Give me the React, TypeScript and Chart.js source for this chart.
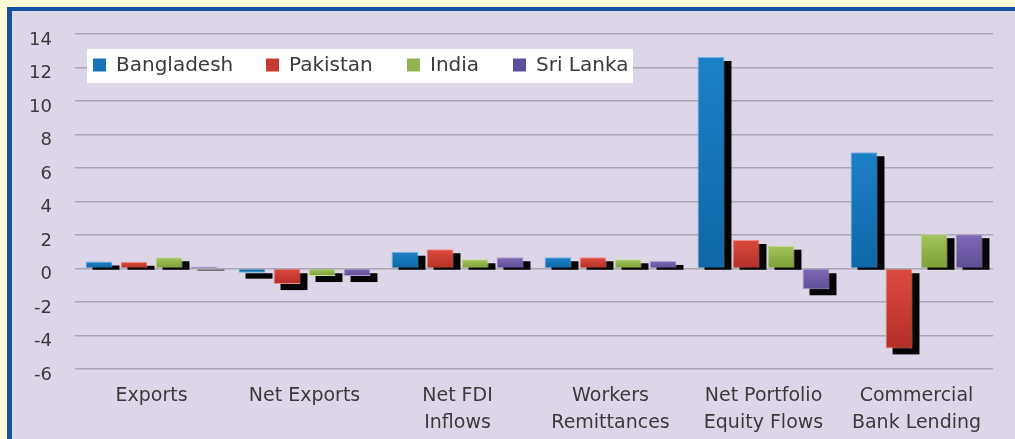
import React, { useEffect, useRef } from "react";
import { Chart, registerables } from "chart.js";

Chart.register(...registerables);

const categories: (string | string[])[] = [
  "Exports",
  "Net Exports",
  ["Net FDI", "Inflows"],
  ["Workers", "Remittances"],
  ["Net Portfolio", "Equity Flows"],
  ["Commercial", "Bank Lending"],
];

const seriesNames = ["Bangladesh", "Pakistan", "India", "Sri Lanka"];

const bangladesh = [0.42, -0.25, 1.0, 0.67, 12.63, 6.94];
const pakistan = [0.4, -0.93, 1.15, 0.67, 1.7, -4.77];
const india = [0.67, -0.45, 0.55, 0.55, 1.36, 2.05];
const sriLanka = [0.12, -0.45, 0.67, 0.45, -1.24, 2.05];

const yTicks = [-6, -4, -2, 0, 2, 4, 6, 8, 10, 12, 14];

const topColors = ["#1d80c6", "#dc4a3e", "#a2c45a", "#7f6ab5"];
const bottomColors = ["#0f67a6", "#b32f27", "#7e9f38", "#5e4d93"];
const edgeColors = ["#6fb3e6", "#f08c84", "#c9df97", "#ada0d6"];
const legendColors = ["#1a72b8", "#c63a31", "#8fb350", "#5d4d9d"];
const legendItemX = [81, 254, 395, 501];

const FONT = '"DejaVu Sans", sans-serif';
const TEXT = "#3a3a3a";

const shadowPlugin = {
  id: "barShadow",
  beforeDatasetsDraw(chart: any) {
    const ctx = chart.ctx;
    ctx.save();
    ctx.fillStyle = "#050505";
    chart.data.datasets.forEach((_: any, di: number) => {
      const meta = chart.getDatasetMeta(di);
      meta.data.forEach((el: any) => {
        const p = el.getProps(["x", "y", "base", "width"], true);
        const left = p.x - p.width / 2 + 7;
        const positive = p.y < p.base;
        const top = Math.min(p.y, p.base) + 4;
        const bottom = Math.max(p.y, p.base) + (positive ? 2 : 6);
        ctx.fillRect(left, top, p.width, bottom - top);
      });
    });
    ctx.restore();
  },
};

const legendPlugin = {
  id: "boxLegend",
  afterDraw(chart: any) {
    const ctx = chart.ctx;
    ctx.save();
    ctx.fillStyle = "#ffffff";
    ctx.fillRect(75, 38, 546, 34);
    ctx.font = "20px " + FONT;
    ctx.textBaseline = "middle";
    const cy = 54;
    seriesNames.forEach((name, i) => {
      const x = legendItemX[i];
      ctx.fillStyle = legendColors[i];
      ctx.fillRect(x, cy - 6.5, 13, 13);
      ctx.fillStyle = TEXT;
      ctx.fillText(name, x + 23, cy + 1);
    });
    ctx.restore();
  },
};

function makeFill(i: number) {
  return (c: any) => {
    const chart = c.chart;
    if (!chart.chartArea || c.raw === undefined) return topColors[i];
    const y = chart.scales.y;
    const p1 = y.getPixelForValue(c.raw);
    const p0 = y.getPixelForValue(0);
    const a = Math.min(p0, p1);
    const b = Math.max(p0, p1);
    if (!(b > a)) return topColors[i];
    const g = chart.ctx.createLinearGradient(0, a, 0, b);
    g.addColorStop(0, topColors[i]);
    g.addColorStop(1, bottomColors[i]);
    return g;
  };
}

export default function App() {
  const ref = useRef<HTMLCanvasElement>(null);

  useEffect(() => {
    if (!ref.current) return;
    const values = [bangladesh, pakistan, india, sriLanka];
    const chart = new Chart(ref.current, {
      type: "bar",
      data: {
        labels: categories as any,
        datasets: values.map((v, i) => ({
          label: seriesNames[i],
          data: v,
          backgroundColor: makeFill(i),
          borderColor: edgeColors[i],
          borderWidth: 1,
          barPercentage: 0.77,
          categoryPercentage: 0.915,
        })),
      },
      options: {
        responsive: false,
        animation: false,
        layout: { padding: { top: 23, right: 22, bottom: 0, left: 0 } },
        plugins: {
          legend: { display: false },
          tooltip: { enabled: false },
        },
        scales: {
          x: {
            grid: { display: false, drawTicks: false },
            border: { display: false },
            ticks: {
              color: TEXT,
              font: { family: FONT, size: 19, lineHeight: 1.4 },
              padding: 14,
              maxRotation: 0,
              autoSkip: false,
            },
            afterFit(scale: any) {
              scale.height = 70;
              scale.paddingLeft = 0;
              scale.paddingRight = 0;
            },
          },
          y: {
            min: -6,
            max: 14,
            afterBuildTicks(scale: any) {
              scale.ticks = yTicks.map((v) => ({ value: v }));
            },
            grid: { color: "#aaa6b2", lineWidth: 1.5, drawTicks: false },
            border: { display: false },
            ticks: {
              color: TEXT,
              font: { family: FONT, size: 18 },
              padding: 23,
              labelOffset: 6,
            },
            afterFit(scale: any) {
              scale.width = 63;
              scale.paddingTop = 0;
              scale.paddingBottom = 0;
            },
          },
        },
      },
      plugins: [shadowPlugin, legendPlugin],
    });
    return () => chart.destroy();
  }, []);

  return (
    <div
      style={{
        position: "absolute",
        left: 0,
        top: 0,
        width: 1015,
        height: 439,
        background: "#fffbd6",
        overflow: "hidden",
      }}
    >
      <div
        style={{
          position: "absolute",
          left: 7,
          top: 7,
          width: 1008,
          height: 432,
          boxSizing: "border-box",
          borderTop: "4px solid #1652a0",
          borderLeft: "5px solid #1652a0",
          background: "#ddd6e8",
        }}
      />
      <canvas
        ref={ref}
        width={1003}
        height={428}
        style={{ position: "absolute", left: 12, top: 11, display: "block" }}
      />
    </div>
  );
}
